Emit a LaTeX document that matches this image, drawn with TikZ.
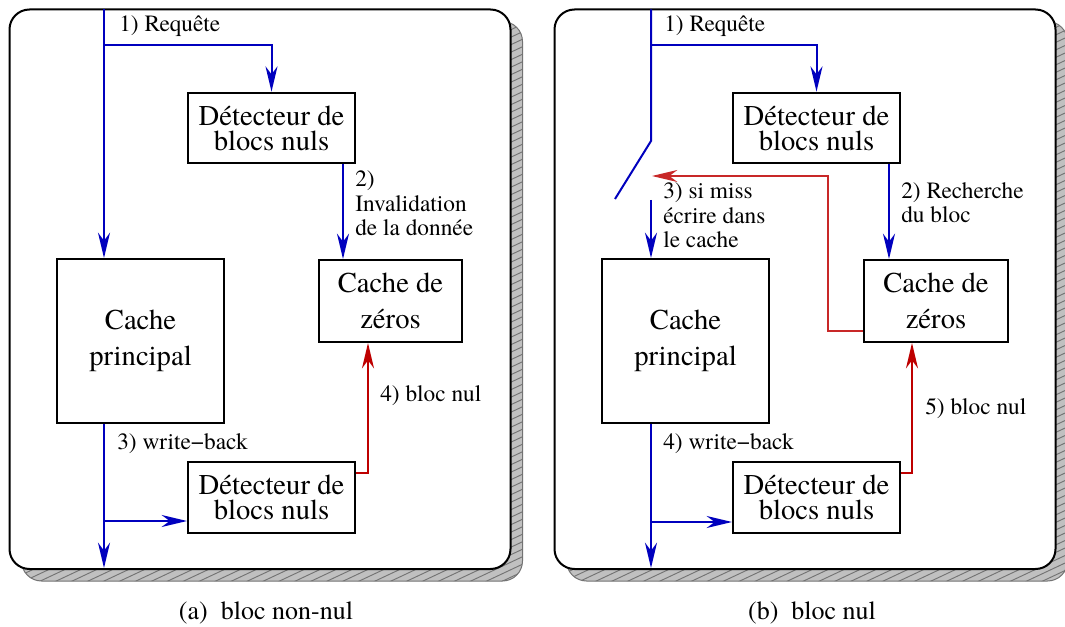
\documentclass[tikz,border=0pt]{standalone}
\usepackage{fontspec}
\setmainfont{texgyretermes}[Extension=.otf,UprightFont=*-regular,BoldFont=*-bold,ItalicFont=*-italic,BoldItalicFont=*-bolditalic]
\usetikzlibrary{arrows.meta}
\definecolor{fblue}{RGB}{0,0,190}
\definecolor{fred}{RGB}{190,0,0}
\definecolor{fredthin}{RGB}{200,40,40}
\definecolor{shfill}{RGB}{192,192,192}
\definecolor{shline}{RGB}{115,115,115}
\begin{document}
\begin{tikzpicture}[x=0.75pt,y=-0.75pt,
  tipx/.tip={Stealth[length=19pt,width=9pt,inset=6pt]},
  box/.style={draw,line width=1.5pt,fill=white,inner sep=0pt,align=center},
  detbox/.style={box,minimum width=125.25pt,minimum height=53pt,font=\fontsize{21.5}{18.75}\selectfont},
  cpbox/.style={box,minimum width=125.25pt,minimum height=123pt,font=\fontsize{21.5}{27}\selectfont},
  czbox/.style={box,minimum width=107.5pt,minimum height=61.5pt,font=\fontsize{21.5}{27}\selectfont},
  blueline/.style={draw=fblue,line width=1.5pt},
  flow/.style={blueline,-tipx},
  redflow/.style={draw=fred,line width=1.5pt,-tipx},
  redthin/.style={draw=fredthin,line width=0.8pt,-tipx},
  lab/.style={anchor=base west,inner sep=0pt,font=\fontsize{17.5}{18}\selectfont},
  capt/.style={anchor=base,inner sep=0pt,font=\fontsize{19.5}{22}\selectfont},
  panelbox/.style={draw,line width=1.5pt,fill=white,rounded corners=15pt},
  shadowline/.style={draw=shline,line width=0.75pt,rounded corners=15pt}]
\useasboundingbox (0,0) rectangle (1065,627);

% ---------- shadows ----------
\begin{scope}
  \clip[rounded corners=15pt] (21.5,21.5) rectangle (522.5,581);
  \fill[shfill] (0,0) rectangle (540,600);
  \foreach \c in {0,7.5,...,900} \draw[shline,line width=0.7pt] (0,\c) -- (540,\c-254);
\end{scope}
\path[shadowline] (21.5,21.5) rectangle (522.5,581);
\begin{scope}
  \clip[rounded corners=15pt] (566.5,21.5) rectangle (1067.5,581);
  \fill[shfill] (540,0) rectangle (1080,600);
  \foreach \c in {0,7.5,...,900} \draw[shline,line width=0.7pt] (540,\c) -- (1080,\c-254);
\end{scope}
\path[shadowline] (566.5,21.5) rectangle (1067.5,581);

% ---------- panels ----------
\path[panelbox] (9.5,9.5) rectangle (510.5,569);
\path[panelbox] (554.5,9.5) rectangle (1055.5,569);

% ---------- panel (a) ----------
\node[detbox] (detA1) at (271.5,128) {Détecteur de\\blocs nuls};
\node[cpbox] (cpA) at (140.5,341) {Cache\\principal};
\node[czbox] (czA) at (390.5,301) {Cache de\\zéros};
\node[detbox] (detA2) at (271.5,497.5) {Détecteur de\\blocs nuls};

\coordinate (topA) at (104,9.5);
\coordinate (brA) at (104,45);
\coordinate (dA) at (343,0);
\coordinate (botA) at (104,568);
\coordinate (brA2) at (104,521);
\coordinate (rA) at (368,473);
\draw[flow] (topA) -- (topA |- cpA.north);
\draw[flow] (brA) -| (detA1.north);
\draw[flow] (dA |- detA1.south) -- (dA |- czA.north);
\draw[flow] (cpA.south -| topA) -- (botA);
\draw[flow] (brA2) -- (brA2 -| detA2.west);
\draw[redflow] (rA -| detA2.east) -| (czA.south -| rA);

\node[lab] (lA1) at (119,32) {1) Requête};
\node[lab] (lA2a) at (355,187) {2)};
\node[lab] (lA2b) at (355,212) {Invalidation};
\node[lab] (lA2c) at (355,236) {de la donnée};
\node[lab] (lA3) at (117,450) {3) write−back};
\node[lab] (lA4) at (380,402) {4) bloc nul};

% ---------- panel (b) ----------
\node[detbox] (detB1) at (816.5,128) {Détecteur de\\blocs nuls};
\node[cpbox] (cpB) at (685.5,341) {Cache\\principal};
\node[czbox] (czB) at (936,301) {Cache de\\zéros};
\node[detbox] (detB2) at (816.5,497.5) {Détecteur de\\blocs nuls};

\coordinate (topB) at (651,9.5);
\coordinate (kneeB) at (651,141);
\coordinate (swB) at (615,199);
\coordinate (swB2) at (651,200);
\coordinate (brB) at (651,45);
\coordinate (dB) at (889,0);
\coordinate (botB) at (651,568);
\coordinate (brB2) at (651,522);
\coordinate (rB) at (912,473);
\coordinate (rtB1) at (828,331);
\coordinate (rtB2) at (828,176);
\coordinate (rtB3) at (652,176);
\draw[blueline] (topB) -- (kneeB) -- (swB);
\draw[flow] (swB2) -- (swB2 |- cpB.north);
\draw[flow] (brB) -| (detB1.north);
\draw[flow] (dB |- detB1.south) -- (dB |- czB.north);
\draw[flow] (cpB.south -| topB) -- (botB);
\draw[flow] (brB2) -- (brB2 -| detB2.west);
\draw[redflow] (rB -| detB2.east) -| (czB.south -| rB);
\draw[redthin] (rtB1 -| czB.west) -- (rtB1) -- (rtB2) -- (rtB3);

\node[lab] (lB1) at (664,32) {1) Requête};
\node[lab] (lB2a) at (901,199) {2) Recherche};
\node[lab] (lB2b) at (901,223) {du bloc};
\node[lab] (lB3a) at (663,199) {3) si miss};
\node[lab] (lB3b) at (663,224) {écrire dans};
\node[lab] (lB3c) at (663,248) {le cache};
\node[lab] (lB4) at (663,450) {4) write−back};
\node[lab] (lB5) at (925,415) {5) bloc nul};

% ---------- captions ----------
\node[capt] (capA) at (266,619) {(a)\ \ bloc non-nul};
\node[capt] (capB) at (812,619) {(b)\ \ bloc nul};
\end{tikzpicture}
\end{document}
